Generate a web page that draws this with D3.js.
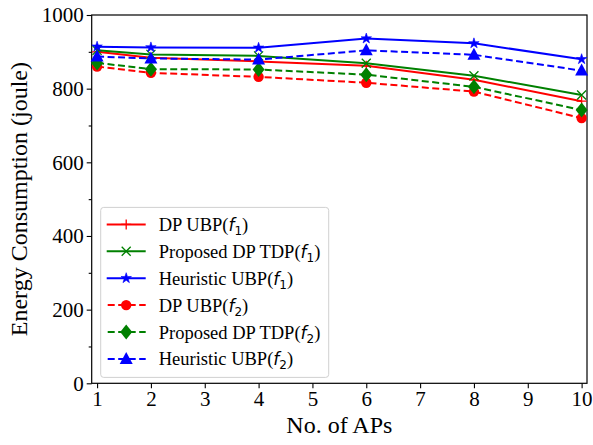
<!DOCTYPE html>
<html>
<head>
<meta charset="utf-8">
<script src="https://d3js.org/d3.v7.min.js"></script>
<style>
  body { margin: 0; background: #fff; }
  svg { display: block; }
  text { font-family: "Liberation Serif", "Times New Roman", serif; fill: #000; }
</style>
</head>
<body>
<svg id="chart" width="593" height="445"></svg>
<script>
// number of APs
var aps = [1, 2, 4, 6, 8, 10];
var xTicks = [1, 2, 3, 4, 5, 6, 7, 8, 9, 10];
var yTicks = [0, 200, 400, 600, 800, 1000];
var yMinor = [100, 300, 500, 700, 900];

// energy consumption values (joule)
var dpUbpF1 = [900, 884, 874, 862, 824, 766];
var tdpF1 = [904, 893, 889, 869, 835, 783];
var heurF1 = [914, 912, 911, 936, 923, 880];
var dpUbpF2 = [860, 843, 832, 816, 792, 720];
var tdpF2 = [870, 853, 852, 838, 805, 742];
var heurF2 = [887, 882, 879, 904, 892, 849];

var series = [
  {name: "DP UBP", sub: "1", values: dpUbpF1, color: "#ff0000", dash: null, marker: "plus"},
  {name: "Proposed DP TDP", sub: "1", values: tdpF1, color: "#008000", dash: null, marker: "x"},
  {name: "Heuristic UBP", sub: "1", values: heurF1, color: "#0000ff", dash: null, marker: "star"},
  {name: "DP UBP", sub: "2", values: dpUbpF2, color: "#ff0000", dash: "7,3.5", marker: "circle"},
  {name: "Proposed DP TDP", sub: "2", values: tdpF2, color: "#008000", dash: "7,3.5", marker: "diamond"},
  {name: "Heuristic UBP", sub: "2", values: heurF2, color: "#0000ff", dash: "7,3.5", marker: "triangle"}
];

var svg = d3.select("#chart");
var plotL = 91.7, plotR = 587, plotT = 15, plotB = 383.3;

var x = d3.scaleLinear().domain([0.9, 10.1]).range([plotL, plotR]);
var y = d3.scaleLinear().domain([0, 1000]).range([plotB, plotT]);

// axes
svg.append("g")
    .attr("transform", "translate(0," + plotB + ")")
    .call(d3.axisBottom(x).tickValues(xTicks).tickFormat(d3.format("d")).tickSize(5).tickPadding(3));
svg.append("g")
    .attr("transform", "translate(" + plotL + ",0)")
    .call(d3.axisLeft(y).tickValues(yTicks).tickFormat(d3.format("d")).tickSize(5).tickPadding(3));
svg.append("g")
    .attr("transform", "translate(" + plotL + ",0)")
    .call(d3.axisLeft(y).tickValues(yMinor).tickFormat("").tickSize(3));

svg.selectAll(".tick text").style("font-size", "21px").style("font-family", "Liberation Serif, serif");
svg.selectAll(".tick line").attr("stroke-width", 1.1);
svg.selectAll(".domain").remove();

// frame
svg.append("rect")
    .attr("x", plotL).attr("y", plotT)
    .attr("width", plotR - plotL).attr("height", plotB - plotT)
    .attr("fill", "none").attr("stroke", "#000").attr("stroke-width", 1.2);

// axis labels
svg.append("text")
    .attr("x", (plotL + plotR) / 2).attr("y", 433)
    .attr("text-anchor", "middle")
    .style("font-size", "24px")
    .text("No. of APs");
svg.append("text")
    .attr("transform", "translate(27," + ((plotT + plotB) / 2) + ") rotate(-90)")
    .attr("text-anchor", "middle")
    .style("font-size", "24px")
    .text("Energy Consumption (joule)");

// marker drawing
function drawMarker(g, type, color) {
  if (type === "plus") {
    g.append("path").attr("d", "M-5,0H5M0,-5V5").attr("stroke", color).attr("stroke-width", 1.3).attr("fill", "none");
  } else if (type === "x") {
    g.append("path").attr("d", "M-4.5,-4.5L4.5,4.5M-4.5,4.5L4.5,-4.5").attr("stroke", color).attr("stroke-width", 1.3).attr("fill", "none");
  } else if (type === "star") {
    g.append("path").attr("d", d3.symbol(d3.symbolStar, 34)()).attr("fill", color).attr("stroke", color).attr("stroke-width", 0.6);
  } else if (type === "circle") {
    g.append("circle").attr("r", 5.2).attr("fill", color);
  } else if (type === "diamond") {
    g.append("path").attr("d", "M0,-7.5L6,0L0,7.5L-6,0Z").attr("fill", color);
  } else if (type === "triangle") {
    g.append("path").attr("d", "M0,-7L6.5,5L-6.5,5Z").attr("fill", color);
  }
}

var line = d3.line().x(function(d) { return x(d[0]); }).y(function(d) { return y(d[1]); });

series.forEach(function(s) {
  var pts = aps.map(function(a, i) { return [a, s.values[i]]; });
  svg.append("path")
      .datum(pts)
      .attr("d", line)
      .attr("fill", "none")
      .attr("stroke", s.color)
      .attr("stroke-width", 2)
      .attr("stroke-dasharray", s.dash);
  pts.forEach(function(p) {
    var g = svg.append("g").attr("transform", "translate(" + x(p[0]) + "," + y(p[1]) + ")");
    drawMarker(g, s.marker, s.color);
  });
});

// legend
var lg = svg.append("g").attr("transform", "translate(100.7,207.4)");
lg.append("rect")
    .attr("width", 228).attr("height", 170)
    .attr("rx", 3)
    .attr("fill", "#fff").attr("fill-opacity", 0.8)
    .attr("stroke", "#d0d0d0").attr("stroke-width", 1);

series.forEach(function(s, i) {
  var cy = 17 + i * 26.9;
  var row = lg.append("g").attr("transform", "translate(0," + cy + ")");
  row.append("line")
      .attr("x1", 6).attr("x2", 45)
      .attr("stroke", s.color).attr("stroke-width", 2)
      .attr("stroke-dasharray", s.dash ? "7,3.5" : null)
      .attr("stroke-dashoffset", s.dash ? -1 : null);
  drawMarker(row.append("g").attr("transform", "translate(25.5,0)"), s.marker, s.color);
  var t = row.append("text").attr("x", 58).attr("y", 6.5).style("font-size", "18.5px");
  t.append("tspan").text(s.name + "(");
  t.append("tspan").style("font-family", "DejaVu Sans").style("font-style", "italic").style("font-size", "17px").text("f");
  t.append("tspan").style("font-family", "DejaVu Sans").style("font-size", "12px").attr("dy", 4).text(s.sub);
  t.append("tspan").attr("dy", -4).text(")");
});
</script>
</body>
</html>
